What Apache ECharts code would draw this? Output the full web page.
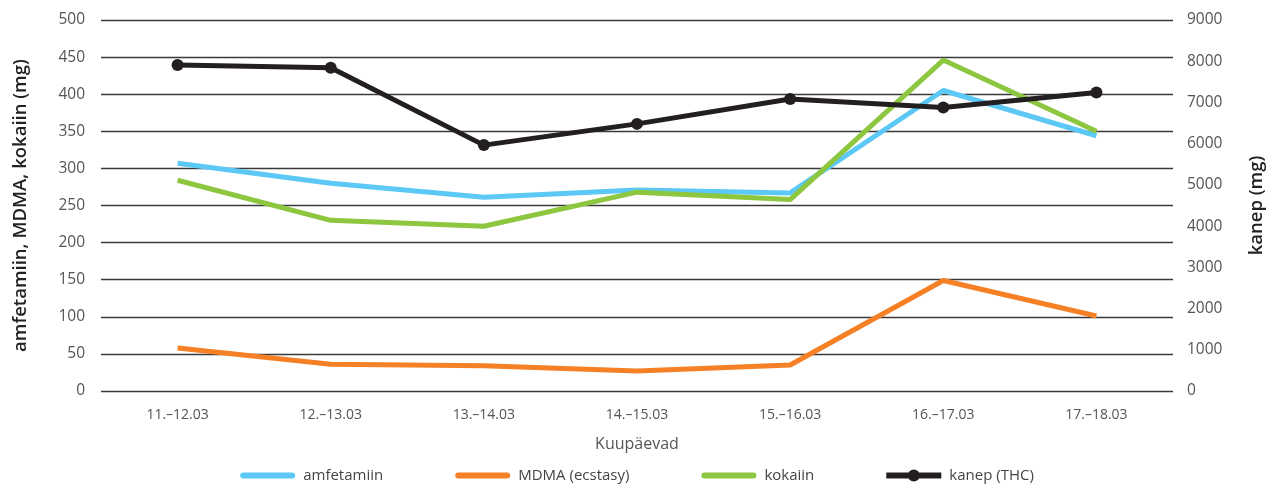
<!DOCTYPE html>
<html><head><meta charset="utf-8">
<script src="https://cdn.jsdelivr.net/npm/echarts@6/dist/echarts.min.js"></script>
<style>html,body{margin:0;padding:0;background:#fff}#c{width:1274px;height:490px}</style>
</head><body><div id="c"></div>
<script>
const categories = ['11.–12.03','12.–13.03','13.–14.03','14.–15.03','15.–16.03','16.–17.03','17.–18.03'];
const amfetamiin = [307, 280, 261, 271, 267, 405, 344];
const mdma = [58, 36, 34, 27, 35, 149, 101];
const kokaiin = [284, 230, 222, 268, 258, 446, 350];
const kanep = [7910, 7840, 5965, 6480, 7085, 6875, 7240];
const leftTicks = {min: 0, max: 500, interval: 50};
const rightTicks = {min: 0, max: 9000, interval: 1000};

const font = '"Open Sans", Lato, sans-serif';
const barIcon = 'path://M3,0 L51,0 A3,3 0 0,1 51,6 L3,6 A3,3 0 0,1 3,0 Z';
const dotIcon = 'path://M0,9 L54,9 L54,15 L0,15 Z M21,12 A6,6 0 1,1 33,12 A6,6 0 1,1 21,12 Z';
const chart = echarts.init(document.getElementById('c'));
chart.setOption({
  animation: false,
  textStyle: {fontFamily: font},
  grid: {left: 101, right: 101, top: 20, bottom: 99},
  legend: {
    bottom: 2, left: 'center', itemGap: 72,
    textStyle: {fontSize: 15, color: '#444', fontFamily: font, padding: [0, 0, 0, 3]},
    data: [
      {name: 'amfetamiin', icon: barIcon, itemStyle: {color: '#5BC8F5'}},
      {name: 'MDMA (ecstasy)', icon: barIcon, itemStyle: {color: '#F58025'}},
      {name: 'kokaiin', icon: barIcon, itemStyle: {color: '#8DC63F'}},
      {name: 'kanep (THC)', icon: dotIcon, itemStyle: {color: '#231F20'}}
    ],
    itemWidth: 55, itemHeight: 14
  },
  xAxis: {
    type: 'category', data: categories, boundaryGap: true,
    name: 'Kuupäevad', nameLocation: 'middle', nameGap: 45,
    nameTextStyle: {fontSize: 16, color: '#555'},
    axisLine: {show: false}, axisTick: {show: false},
    axisLabel: {fontSize: 14, color: '#555', margin: 17}
  },
  yAxis: [{
    type: 'value', min: leftTicks.min, max: leftTicks.max, interval: leftTicks.interval,
    name: 'amfetamiin, MDMA, kokaiin (mg)', nameLocation: 'middle', nameGap: 71,
    nameTextStyle: {fontSize: 18.5, color: '#222', fontWeight: 600},
    axisLine: {show: false}, axisTick: {show: false},
    axisLabel: {fontSize: 15.5, color: '#555', margin: 16},
    splitLine: {lineStyle: {color: '#3a3a3a', width: 1.3}}
  }, {
    type: 'value', min: rightTicks.min, max: rightTicks.max, interval: rightTicks.interval,
    name: 'kanep (mg)', nameLocation: 'middle', nameGap: 74, nameRotate: 90,
    nameTextStyle: {fontSize: 18.5, color: '#222', fontWeight: 600},
    axisLine: {show: false}, axisTick: {show: false},
    axisLabel: {fontSize: 15.5, color: '#555', margin: 14, formatter: v => String(v)},
    splitLine: {show: false}
  }],
  series: [
    {name: 'amfetamiin', type: 'line', data: amfetamiin, symbol: 'none', color: '#5BC8F5', lineStyle: {width: 5, color: '#5BC8F5'}},
    {name: 'MDMA (ecstasy)', type: 'line', data: mdma, symbol: 'none', color: '#F58025', lineStyle: {width: 5, color: '#F58025'}},
    {name: 'kokaiin', type: 'line', data: kokaiin, symbol: 'none', color: '#8DC63F', lineStyle: {width: 5, color: '#8DC63F'}},
    {name: 'kanep (THC)', type: 'line', yAxisIndex: 1, data: kanep, symbol: 'circle', symbolSize: 12, color: '#231F20', lineStyle: {width: 5, color: '#231F20'}, itemStyle: {color: '#231F20'}}
  ]
});
</script></body></html>
